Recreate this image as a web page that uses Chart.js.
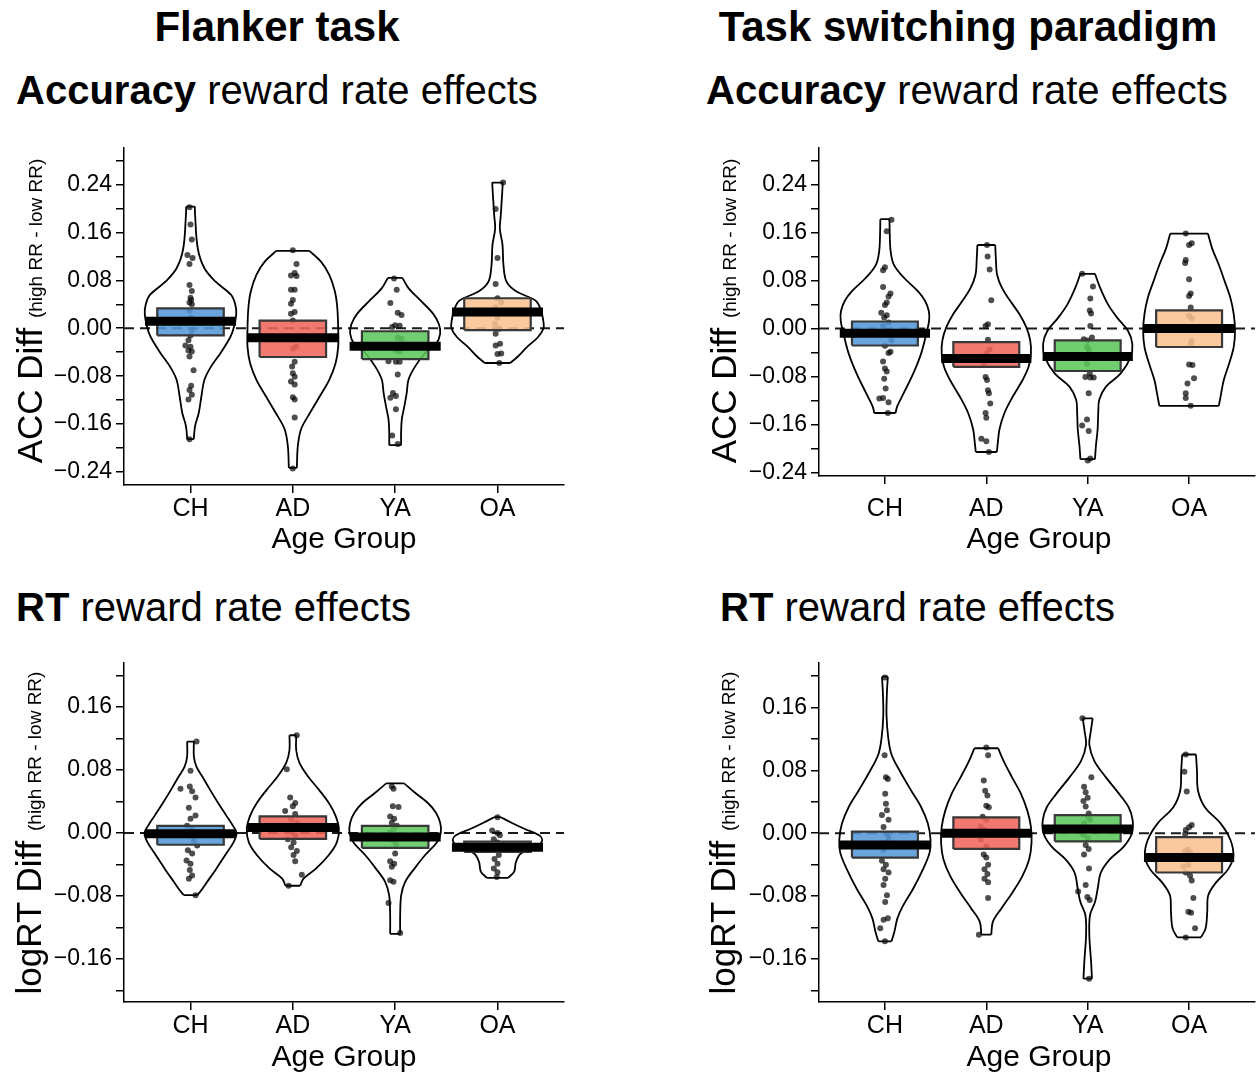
<!DOCTYPE html>
<html>
<head>
<meta charset="utf-8">
<script src="https://cdn.jsdelivr.net/npm/chart.js@4.4.1/dist/chart.umd.min.js"></script>
<style>
  html, body { margin: 0; padding: 0; background: #fff; overflow: hidden; }
  body { width: 1259px; height: 1076px; position: relative; font-family: "Liberation Sans", Arial, Helvetica, sans-serif; color: #000; }
  .t { position: absolute; white-space: nowrap; line-height: 1; transform: translate(-50%, -50%); }
  .sub { position: absolute; white-space: nowrap; line-height: 1; transform: translateY(-50%); font-size: 40px; }
  .yt { position: absolute; white-space: nowrap; line-height: 1; font-size: 35px; transform: translate(-50%, -50%) rotate(-90deg); }
  .yt span { font-size: 19px; }
  .xt { position: absolute; white-space: nowrap; line-height: 1; font-size: 30px; transform: translate(-50%, -50%); }
  canvas { position: absolute; }
</style>
</head>
<body>
<div class="t" style="left:277px;top:27px;font-size:42px;font-weight:bold">Flanker task</div>
<div class="t" style="left:968px;top:27px;font-size:42px;font-weight:bold">Task switching paradigm</div>
<div class="sub" style="left:16px;top:90px"><b>Accuracy</b> reward rate effects</div>
<div class="sub" style="left:706px;top:90px"><b>Accuracy</b> reward rate effects</div>
<div class="sub" style="left:16px;top:607px"><b>RT</b> reward rate effects</div>
<div class="sub" style="left:720px;top:607px"><b>RT</b> reward rate effects</div>

<canvas id="c1" width="580" height="430" style="left:0px;top:130px"></canvas>
<canvas id="c2" width="564" height="430" style="left:695px;top:130px"></canvas>
<canvas id="c3" width="580" height="430" style="left:0px;top:645px"></canvas>
<canvas id="c4" width="564" height="430" style="left:695px;top:645px"></canvas>

<div class="yt" style="left:29px;top:311px">ACC Diff <span>(high RR - low RR)</span></div>
<div class="yt" style="left:723px;top:311px">ACC Diff <span>(high RR - low RR)</span></div>
<div class="yt" style="left:28px;top:833px">logRT Diff <span>(high RR - low RR)</span></div>
<div class="yt" style="left:722px;top:833px">logRT Diff <span>(high RR - low RR)</span></div>

<div class="xt" style="left:344px;top:538px">Age Group</div>
<div class="xt" style="left:1039px;top:538px">Age Group</div>
<div class="xt" style="left:344px;top:1056px">Age Group</div>
<div class="xt" style="left:1039px;top:1056px">Age Group</div>

<script>
const GROUPS = ['CH', 'AD', 'YA', 'OA'];
const ACC_TICKS = [-0.24, -0.20, -0.16, -0.12, -0.08, -0.04, 0, 0.04, 0.08, 0.12, 0.16, 0.20, 0.24, 0.28];
const RT_TICKS = [-0.20, -0.16, -0.12, -0.08, -0.04, 0, 0.04, 0.08, 0.12, 0.16, 0.20];

// ---- Flanker, accuracy ----
const flkAccMean = [0.0115, -0.016, -0.030, 0.027];
const flkAccLo = [-0.012, -0.048, -0.0515, -0.003];
const flkAccHi = [0.033, 0.0126, -0.005, 0.050];
// bean outlines: [value, half width]
const flkAccBeanCH = [[0.203,0.042],[0.188,0.045],[0.133,0.071],[0.100,0.136],[0.078,0.243],[0.056,0.395],[0.040,0.437],[0.024,0.447],[0.000,0.421],[-0.015,0.388],[-0.042,0.291],[-0.064,0.200],[-0.086,0.136],[-0.113,0.107],[-0.141,0.081],[-0.163,0.045],[-0.185,0.032]];
const flkAccBeanAD = [[0.129,0.162],[0.111,0.275],[0.089,0.356],[0.062,0.410],[0.035,0.434],[0.000,0.443],[-0.031,0.443],[-0.059,0.417],[-0.086,0.356],[-0.113,0.265],[-0.141,0.168],[-0.168,0.081],[-0.196,0.049],[-0.233,0.039]];
const flkAccBeanYA = [[0.084,0.071],[0.067,0.130],[0.046,0.250],[0.024,0.372],[0.007,0.427],[-0.009,0.440],[-0.026,0.400],[-0.042,0.290],[-0.064,0.194],[-0.086,0.130],[-0.108,0.113],[-0.130,0.090],[-0.152,0.065],[-0.174,0.058],[-0.195,0.058]];
const flkAccBeanOA = [[0.243,0.052],[0.215,0.042],[0.188,0.032],[0.166,0.023],[0.139,0.049],[0.106,0.058],[0.078,0.087],[0.062,0.178],[0.046,0.372],[0.029,0.427],[0.013,0.447],[0.000,0.450],[-0.015,0.395],[-0.031,0.290],[-0.048,0.194],[-0.058,0.123]];
// points: [value, jitter]
const flkAccPtsCH = [[0.202,-0.01],[0.173,0],[0.148,0.013],[0.122,-0.03],[0.117,0.02],[0.107,-0.01],[0.072,-0.01],[0.062,0.013],[0.051,0],[0.047,0.006],[0.043,-0.01],[0.040,0.013],[0.029,-0.01],[0.018,0.006],[0.013,0],[-0.003,0.013],[-0.012,0],[-0.020,-0.02],[-0.029,-0.05],[-0.031,0],[-0.037,-0.02],[-0.039,0.013],[-0.047,-0.01],[-0.070,0.03],[-0.096,0.006],[-0.103,-0.01],[-0.111,0.013],[-0.119,-0.02],[-0.185,-0.01]];
const flkAccPtsAD = [[0.130,0],[0.107,0.036],[0.092,0.018],[0.088,-0.018],[0.087,0.036],[0.064,-0.018],[0.064,0.018],[0.047,0],[0.041,-0.018],[0.027,0.018],[0.024,-0.018],[0.013,0],[-0.031,0.036],[-0.034,0],[-0.056,0.018],[-0.064,-0.007],[-0.075,0],[-0.081,0.018],[-0.089,-0.018],[-0.094,0.018],[-0.115,0],[-0.119,0.018],[-0.149,0.018],[-0.234,0]];
const flkAccPtsYA = [[0.083,-0.011],[0.064,0.015],[0.042,-0.047],[0.026,0.025],[0.022,0.062],[0.005,0],[0.004,0.044],[0.002,-0.029],[-0.016,0.025],[-0.018,0.062],[-0.037,0.007],[-0.039,0.044],[-0.055,-0.065],[-0.056,0.007],[-0.056,0.044],[-0.077,0.025],[-0.108,-0.022],[-0.113,0.007],[-0.116,-0.047],[-0.135,0.007],[-0.179,-0.029],[-0.193,0.025]];
const flkAccPtsOA = [[0.243,0.055],[0.199,-0.018],[0.117,0],[0.074,-0.018],[0.050,0],[0.043,0.036],[0.035,-0.018],[0.026,0.025],[0.018,0],[0.007,-0.025],[-0.001,0.018],[-0.009,-0.018],[-0.026,0.025],[-0.029,-0.018],[-0.042,0.036],[-0.043,0],[-0.058,0.018]];

// ---- Task switching, accuracy ----
const tswAccMean = [-0.008, -0.050, -0.047, 0.000];
const tswAccLo = [-0.0285, -0.064, -0.071, -0.031];
const tswAccHi = [0.0115, -0.023, -0.020, 0.030];
const tswAccBeanCH = [[0.182,0.045],[0.155,0.048],[0.128,0.057],[0.106,0.089],[0.084,0.190],[0.062,0.325],[0.046,0.395],[0.029,0.433],[0.013,0.436],[-0.009,0.408],[-0.042,0.357],[-0.075,0.280],[-0.108,0.185],[-0.130,0.121],[-0.141,0.105]];
const tswAccBeanAD = [[0.139,0.088],[0.117,0.094],[0.089,0.107],[0.067,0.156],[0.046,0.235],[0.024,0.326],[0.002,0.394],[-0.020,0.433],[-0.042,0.440],[-0.064,0.417],[-0.086,0.358],[-0.114,0.260],[-0.141,0.179],[-0.168,0.130],[-0.190,0.114],[-0.206,0.104]];
const tswAccBeanYA = [[0.091,0.072],[0.067,0.124],[0.040,0.200],[0.018,0.290],[-0.004,0.397],[-0.026,0.440],[-0.048,0.423],[-0.075,0.326],[-0.097,0.180],[-0.119,0.114],[-0.141,0.104],[-0.168,0.098],[-0.196,0.081],[-0.218,0.072]];
const tswAccBeanOA = [[0.158,0.186],[0.133,0.228],[0.106,0.293],[0.078,0.352],[0.051,0.407],[0.024,0.440],[-0.004,0.453],[-0.031,0.440],[-0.059,0.394],[-0.086,0.342],[-0.114,0.310],[-0.129,0.293]];
const tswAccPtsCH = [[0.181,0.065],[0.162,0.018],[0.102,0],[0.097,-0.018],[0.069,-0.018],[0.058,0.055],[0.053,0.036],[0.043,0.018],[0.039,0],[0.026,-0.036],[0.022,0.018],[0.018,-0.007],[0.010,0.036],[0.004,-0.018],[-0.020,0.065],[-0.029,0],[-0.039,0.055],[-0.041,0.036],[-0.055,-0.018],[-0.067,0],[-0.072,0.018],[-0.084,-0.007],[-0.100,0.007],[-0.116,-0.018],[-0.117,-0.055],[-0.123,0.036],[-0.141,0.029]];
const tswAccPtsAD = [[0.139,0.007],[0.120,0.013],[0.098,0.033],[0.047,0.049],[0.007,0.016],[0.004,-0.007],[-0.019,0.016],[-0.035,0.033],[-0.042,0],[-0.050,-0.05],[-0.060,-0.026],[-0.081,-0.007],[-0.086,0.007],[-0.103,0.016],[-0.108,0.026],[-0.125,0.039],[-0.141,-0.007],[-0.149,0],[-0.184,-0.049],[-0.188,0],[-0.206,0.026]];
const tswAccPtsYA = [[0.091,-0.055],[0.070,0.052],[0.050,0.026],[0.030,0.02],[0.025,0.033],[0.004,0.026],[-0.015,0.042],[-0.018,-0.039],[-0.020,0],[-0.031,-0.007],[-0.035,0.013],[-0.042,0.01],[-0.059,-0.007],[-0.075,0.02],[-0.081,-0.023],[-0.082,0.026],[-0.082,0.059],[-0.108,0.01],[-0.152,-0.007],[-0.162,-0.055],[-0.171,0.01],[-0.217,0.026],[-0.220,0]];
const tswAccPtsOA = [[0.158,-0.033],[0.142,0.026],[0.139,0],[0.114,-0.033],[0.109,-0.039],[0.082,0],[0.058,0.016],[0.054,0],[0.035,0.016],[0.021,0],[0.017,0.026],[-0.001,-0.016],[-0.021,0.026],[-0.027,0.016],[-0.060,0],[-0.061,0.033],[-0.083,0.049],[-0.092,-0.016],[-0.108,-0.033],[-0.116,-0.033],[-0.129,0.016]];

// ---- Flanker, RT ----
const flkRtMean = [-0.001, 0.007, -0.005, -0.018];
const flkRtLo = [-0.015, -0.0075, -0.019, -0.024];
const flkRtHi = [0.009, 0.021, 0.009, -0.011];
const flkRtBeanCH = [[0.116,0.033],[0.097,0.033],[0.084,0.059],[0.072,0.114],[0.055,0.190],[0.038,0.270],[0.022,0.350],[0.009,0.415],[0.000,0.450],[-0.012,0.420],[-0.028,0.340],[-0.045,0.254],[-0.062,0.163],[-0.074,0.098],[-0.079,0.065]];
const flkRtBeanAD = [[0.124,0.033],[0.105,0.033],[0.089,0.065],[0.072,0.147],[0.055,0.254],[0.038,0.352],[0.022,0.417],[0.005,0.450],[-0.012,0.430],[-0.028,0.352],[-0.045,0.228],[-0.058,0.104],[-0.067,0.072]];
const flkRtBeanYA = [[0.063,0.088],[0.051,0.195],[0.038,0.320],[0.026,0.397],[0.013,0.440],[0.000,0.446],[-0.012,0.407],[-0.028,0.293],[-0.045,0.190],[-0.062,0.098],[-0.079,0.059],[-0.104,0.049],[-0.128,0.049]];
const flkRtBeanOA = [[0.020,0.033],[0.013,0.137],[0.005,0.267],[-0.003,0.407],[-0.010,0.436],[-0.018,0.375],[-0.026,0.228],[-0.037,0.180],[-0.049,0.163],[-0.057,0.104]];
const flkRtPtsCH = [[0.116,0.059],[0.079,0],[0.059,-0.007],[0.056,-0.098],[0.053,0.016],[0.045,0.049],[0.032,-0.016],[0.022,0.049],[0.018,0],[0.009,-0.033],[0.005,0.016],[-0.003,-0.016],[-0.010,0.033],[-0.016,0.065],[-0.022,-0.026],[-0.026,0.016],[-0.035,-0.039],[-0.039,0],[-0.047,-0.007],[-0.054,0.016],[-0.058,-0.016],[-0.079,0.049]];
const flkRtPtsAD = [[0.124,0.039],[0.081,-0.059],[0.045,-0.026],[0.038,0.023],[0.034,0],[0.028,-0.075],[0.024,0.023],[0.017,-0.016],[0.013,0.039],[0.009,-0.042],[0.006,0.007],[0.001,-0.016],[-0.003,0.023],[-0.008,-0.049],[-0.012,0.007],[-0.018,-0.016],[-0.023,0.039],[-0.028,0.007],[-0.036,0.023],[-0.053,0.088],[-0.067,-0.042]];
const flkRtPtsYA = [[0.059,-0.033],[0.056,-0.016],[0.034,-0.023],[0.033,0.033],[0.021,-0.049],[0.018,-0.01],[0.013,-0.033],[0.009,0.016],[0.005,-0.016],[0.001,-0.049],[-0.003,0.033],[-0.010,-0.016],[-0.015,0.01],[-0.026,0],[-0.036,-0.049],[-0.039,-0.01],[-0.043,-0.033],[-0.060,-0.049],[-0.062,-0.016],[-0.089,-0.065],[-0.127,0.049]];
const flkRtPtsOA = [[0.020,0],[0.003,-0.052],[0.000,0],[-0.003,0.023],[-0.008,-0.036],[-0.012,0],[-0.017,0.023],[-0.020,-0.029],[-0.028,0.013],[-0.033,-0.029],[-0.039,0],[-0.045,-0.036],[-0.050,0],[-0.056,-0.007]];

// ---- Task switching, RT ----
const tswRtMean = [-0.015, 0.000, 0.0054, -0.031];
const tswRtLo = [-0.031, -0.020, -0.0104, -0.050];
const tswRtHi = [0.002, 0.020, 0.023, -0.005];
const tswRtBeanCH = [[0.199,0.029],[0.179,0.020],[0.150,0.016],[0.121,0.033],[0.100,0.065],[0.079,0.147],[0.054,0.260],[0.033,0.358],[0.0125,0.423],[-0.008,0.450],[-0.025,0.440],[-0.046,0.375],[-0.071,0.277],[-0.092,0.179],[-0.108,0.124],[-0.125,0.094],[-0.1375,0.065]];
const tswRtBeanAD = [[0.108,0.117],[0.092,0.170],[0.071,0.254],[0.050,0.342],[0.029,0.404],[0.008,0.440],[-0.0125,0.446],[-0.033,0.423],[-0.054,0.358],[-0.075,0.260],[-0.096,0.147],[-0.1125,0.065],[-0.129,0.049]];
const tswRtBeanYA = [[0.146,0.049],[0.129,0.030],[0.1125,0.016],[0.092,0.065],[0.071,0.180],[0.050,0.310],[0.033,0.404],[0.0167,0.443],[0.000,0.436],[-0.0167,0.358],[-0.033,0.220],[-0.050,0.130],[-0.071,0.098],[-0.0875,0.072],[-0.104,0.023],[-0.129,0.016],[-0.1625,0.033],[-0.185,0.042]];
const tswRtBeanOA = [[0.100,0.068],[0.079,0.078],[0.054,0.088],[0.033,0.156],[0.0125,0.310],[-0.0083,0.407],[-0.029,0.436],[-0.046,0.384],[-0.0625,0.267],[-0.079,0.189],[-0.100,0.179],[-0.121,0.163],[-0.1325,0.117]];
const tswRtPtsCH = [[0.198,0],[0.099,-0.003],[0.071,0.01],[0.069,0.029],[0.050,0.003],[0.0375,0.01],[0.029,0.02],[0.023,-0.029],[0.017,0.036],[0.008,-0.013],[-0.001,0.02],[-0.006,0.036],[-0.0125,0.003],[-0.021,-0.013],[-0.035,-0.029],[-0.040,0.01],[-0.046,-0.013],[-0.050,0.036],[-0.058,0.003],[-0.066,-0.013],[-0.079,0.02],[-0.0875,0.003],[-0.108,0.029],[-0.110,-0.013],[-0.121,-0.046],[-0.1375,0]];
const tswRtPtsAD = [[0.109,0],[0.099,0.018],[0.067,-0.025],[0.054,-0.011],[0.048,0.011],[0.035,0],[0.033,0.025],[0.021,-0.036],[0.017,0],[0.008,-0.055],[0.004,-0.018],[0.000,0.036],[-0.008,-0.055],[-0.017,0],[-0.027,-0.025],[-0.031,0],[-0.040,0.018],[-0.046,-0.018],[-0.052,0.011],[-0.058,-0.018],[-0.0625,0.018],[-0.0825,0.018],[-0.129,-0.073]];
const tswRtPtsYA = [[0.146,-0.052],[0.071,0.036],[0.059,-0.036],[0.052,-0.02],[0.045,0],[0.041,-0.042],[0.034,-0.02],[0.025,0.01],[0.021,0.003],[0.0175,0.023],[0.0125,-0.036],[0.0075,0],[0.004,0.029],[-0.002,-0.042],[-0.006,0.003],[-0.015,-0.02],[-0.020,0.01],[-0.027,-0.036],[-0.045,0.013],[-0.066,-0.02],[-0.074,-0.094],[-0.081,-0.003],[-0.085,0.02],[-0.185,0.013]];
const tswRtPtsOA = [[0.100,-0.033],[0.078,-0.046],[0.053,-0.023],[0.0104,0.026],[0.0075,0],[0.004,-0.033],[-0.001,-0.039],[-0.021,-0.013],[-0.023,-0.039],[-0.025,0.013],[-0.028,-0.02],[-0.040,-0.007],[-0.042,-0.055],[-0.050,-0.033],[-0.054,0.01],[-0.060,0.026],[-0.0825,0.042],[-0.100,-0.007],[-0.101,0.02],[-0.121,0.059],[-0.1325,-0.033]];

const FONT = '"Liberation Sans", Arial, Helvetica, sans-serif';
const FILLS = ['rgba(84,152,215,0.88)', 'rgba(240,102,92,0.88)', 'rgba(92,198,92,0.88)', 'rgba(249,194,145,0.88)'];
const X_MIN = 0.35, X_MAX = 4.65;
const BOX_W = 0.325, BAR_W = 0.445;

const panels = [
  { id: 'c1', beans: [flkAccBeanCH, flkAccBeanAD, flkAccBeanYA, flkAccBeanOA], pts: [flkAccPtsCH, flkAccPtsAD, flkAccPtsYA, flkAccPtsOA],
    mean: flkAccMean, lo: flkAccLo, hi: flkAccHi, ticks: ACC_TICKS, yMin: -0.2615, yMax: 0.301, padR: 16, padT: 13, xH: 75, xPad: 1 },
  { id: 'c2', beans: [tswAccBeanCH, tswAccBeanAD, tswAccBeanYA, tswAccBeanOA], pts: [tswAccPtsCH, tswAccPtsAD, tswAccPtsYA, tswAccPtsOA],
    mean: tswAccMean, lo: tswAccLo, hi: tswAccHi, ticks: ACC_TICKS, yMin: -0.246, yMax: 0.301, padR: 0, padT: 13, xH: 84, xPad: 10 },
  { id: 'c3', beans: [flkRtBeanCH, flkRtBeanAD, flkRtBeanYA, flkRtBeanOA], pts: [flkRtPtsCH, flkRtPtsAD, flkRtPtsYA, flkRtPtsOA],
    mean: flkRtMean, lo: flkRtLo, hi: flkRtHi, ticks: RT_TICKS, yMin: -0.2146, yMax: 0.216, padR: 16, padT: 13, xH: 73, xPad: 1 },
  { id: 'c4', beans: [tswRtBeanCH, tswRtBeanAD, tswRtBeanYA, tswRtBeanOA], pts: [tswRtPtsCH, tswRtPtsAD, tswRtPtsYA, tswRtPtsOA],
    mean: tswRtMean, lo: tswRtLo, hi: tswRtHi, ticks: RT_TICKS, yMin: -0.2146, yMax: 0.2166, padR: 0, padT: 12, xH: 73, xPad: 1 }
];

function fmt(v) {
  if (Math.abs(v) < 1e-9) return '0.00';
  return (v < 0 ? '\u2212' : '') + Math.abs(v).toFixed(2);
}

function buildPanel(p) {
  const datasets = [];
  // dashed zero line
  datasets.push({ data: [{ x: X_MIN, y: 0 }, { x: X_MAX, y: 0 }], borderColor: '#1a1a1a', borderWidth: 2,
    borderDash: [10, 6], pointRadius: 0, order: 50 });

  const caps = [];
  const dots = [];
  GROUPS.forEach((g, i) => {
    const c = i + 1;
    const bean = p.beans[i];
    // bean sides
    [1, -1].forEach(side => {
      datasets.push({ data: bean.map(([y, w]) => ({ x: c + side * w, y })), borderColor: '#000', borderWidth: 1.8,
        pointRadius: 0, tension: 0.35, fill: false, order: 40 });
    });
    const top = bean[0], bot = bean[bean.length - 1];
    caps.push({ x: c - top[1], y: top[0] }, { x: c + top[1], y: top[0] }, { x: c, y: null },
              { x: c - bot[1], y: bot[0] }, { x: c + bot[1], y: bot[0] }, { x: c, y: null });

    p.pts[i].forEach(([y, dx]) => dots.push({ x: c + dx, y }));

    // inference box
    const lo = p.lo[i], hi = p.hi[i];
    datasets.push({ data: [{ x: c - BOX_W, y: lo }, { x: c + BOX_W, y: lo }, { x: c + BOX_W, y: hi }, { x: c - BOX_W, y: hi }, { x: c - BOX_W, y: lo }],
      fill: 'shape', backgroundColor: FILLS[i], borderColor: '#383838', borderWidth: 2.2, borderJoinStyle: 'miter',
      pointRadius: 0, tension: 0, order: 20 });

    // mean bar
    datasets.push({ data: [{ x: c - BAR_W, y: p.mean[i] }, { x: c + BAR_W, y: p.mean[i] }], borderColor: '#000', borderWidth: 9,
      borderCapStyle: 'butt', pointRadius: 0, order: 10 });
  });

  datasets.push({ data: caps, borderColor: '#000', borderWidth: 1.8, pointRadius: 0, spanGaps: false, order: 40 });
  datasets.push({ data: dots, showLine: false, pointRadius: 3, pointBackgroundColor: 'rgba(10,10,10,0.72)',
    pointBorderWidth: 0, order: 30 });

  const gridOpts = { drawOnChartArea: false, color: '#000', lineWidth: 1.5, tickLength: 8 };
  const borderOpts = { display: true, color: '#000', width: 1.5 };

  new Chart(document.getElementById(p.id), {
    type: 'line',
    data: { datasets },
    options: {
      responsive: false,
      animation: false,
      events: [],
      devicePixelRatio: 1,
      layout: { padding: { left: 0, right: p.padR, top: p.padT, bottom: 0 } },
      plugins: { legend: { display: false }, tooltip: { enabled: false } },
      scales: {
        x: {
          type: 'linear', min: X_MIN, max: X_MAX,
          afterBuildTicks: a => { a.ticks = GROUPS.map((g, i) => ({ value: i + 1 })); },
          afterFit: a => { a.height = p.xH; },
          ticks: { autoSkip: false, maxRotation: 0, padding: p.xPad, color: '#000',
            font: { family: FONT, size: 25 }, callback: v => GROUPS[Math.round(v) - 1] },
          grid: gridOpts, border: borderOpts
        },
        y: {
          type: 'linear', min: p.yMin, max: p.yMax,
          afterBuildTicks: a => { a.ticks = p.ticks.map(v => ({ value: v })); },
          afterFit: a => { a.width = 124; },
          ticks: { autoSkip: false, padding: 4, color: '#000', font: { family: FONT, size: 23 },
            callback: v => (Math.round(v * 100) % 8 === 0 ? fmt(v) : '') },
          grid: gridOpts, border: borderOpts
        }
      }
    }
  });
}

panels.forEach(buildPanel);
</script>
</body>
</html>
